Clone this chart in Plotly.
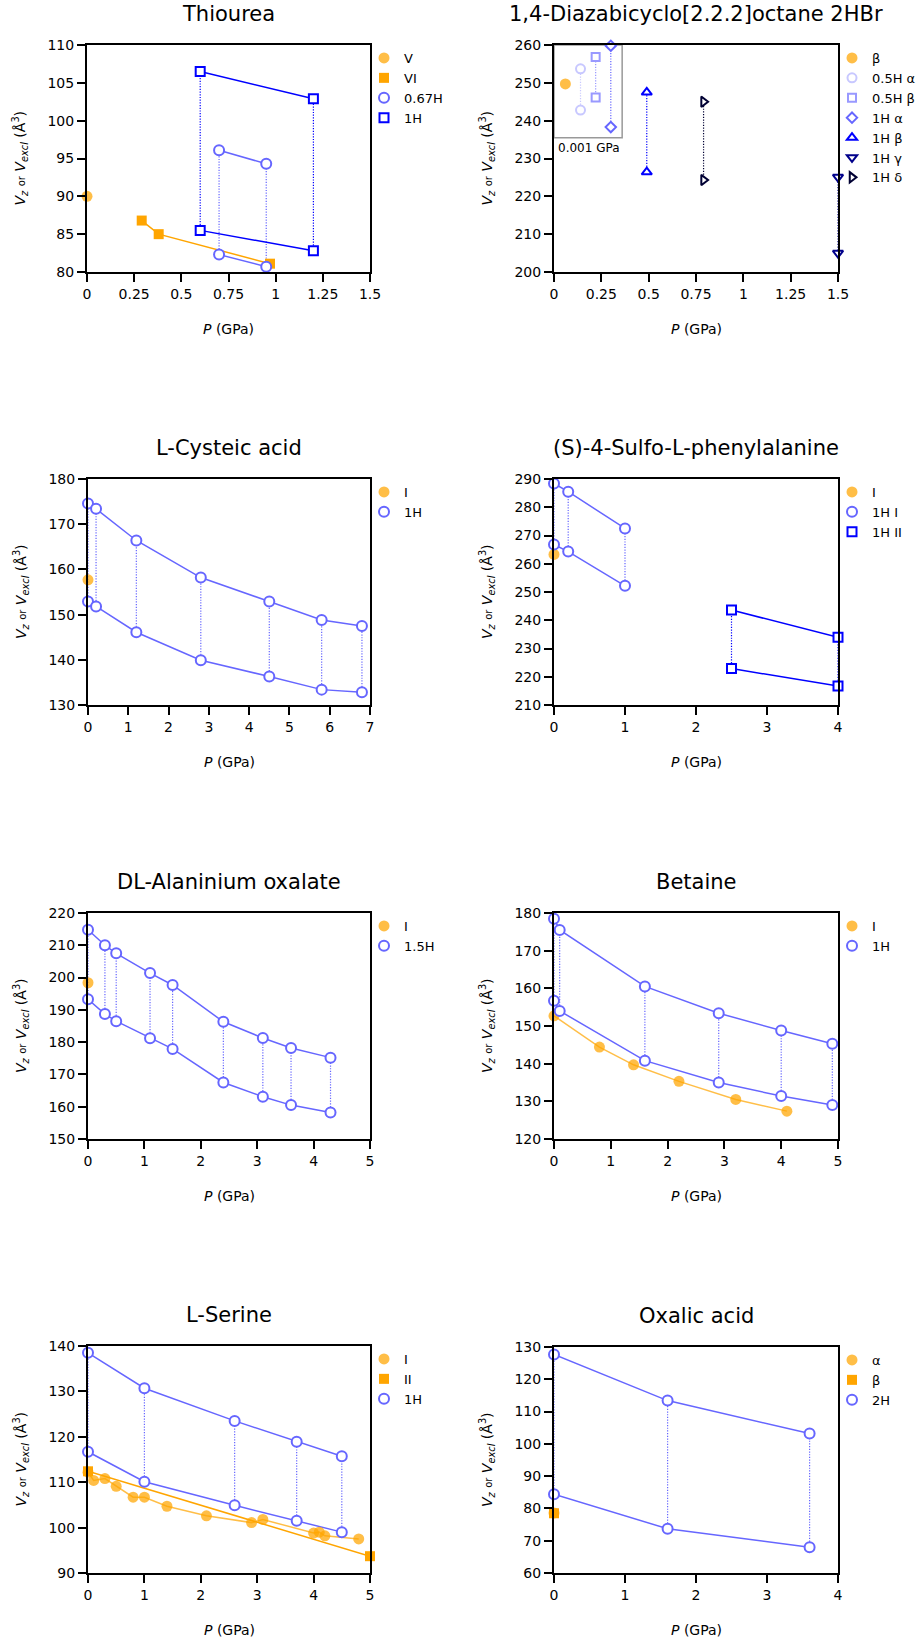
import plotly.graph_objects as go

# ---------------- data (pressure P in GPa, volumes in Å^3) ----------------
# Thiourea
thio_V_P = [0.0]
thio_V_V = [90.0]
thio_VI_P = [0.29, 0.38, 0.97]
thio_VI_V = [86.8, 85.0, 81.1]
thio_067H_P = [0.70, 0.95]
thio_067H_Vexcl = [96.1, 94.3]
thio_067H_Vz = [82.3, 80.7]
thio_1H_P = [0.60, 1.20]
thio_1H_Vexcl = [106.5, 102.9]
thio_1H_Vz = [85.5, 82.8]

# 1,4-Diazabicyclo[2.2.2]octane 2HBr (inset points drawn at offset x, all at 0.001 GPa)
dabco_beta_P = [0.06]
dabco_beta_V = [249.7]
dabco_05Ha_P = [0.14]
dabco_05Ha_Vexcl = [253.7]
dabco_05Ha_Vz = [242.8]
dabco_05Hb_P = [0.22]
dabco_05Hb_Vexcl = [256.8]
dabco_05Hb_Vz = [246.1]
dabco_1Ha_P = [0.30]
dabco_1Ha_Vexcl = [259.8]
dabco_1Ha_Vz = [238.3]
dabco_1Hb_P = [0.49]
dabco_1Hb_Vexcl = [247.5]
dabco_1Hb_Vz = [226.4]
dabco_1Hg_P = [1.50]
dabco_1Hg_Vexcl = [225.1]
dabco_1Hg_Vz = [205.0]
dabco_1Hd_P = [0.79]
dabco_1Hd_Vexcl = [245.0]
dabco_1Hd_Vz = [224.3]
dabco_inset_P = [0.0, 0.36]
dabco_inset_V = [235.5, 260.0]
dabco_inset_label = "0.001 GPa"

# L-Cysteic acid
cys_I_P = [0.0]
cys_I_V = [157.7]
cys_1H_P = [0.0, 0.2, 1.2, 2.8, 4.5, 5.8, 6.8]
cys_1H_Vexcl = [174.6, 173.4, 166.4, 158.2, 152.9, 148.8, 147.5]
cys_1H_Vz = [152.9, 151.8, 146.1, 139.9, 136.3, 133.4, 132.8]

# (S)-4-Sulfo-L-phenylalanine
sulfo_I_P = [0.0]
sulfo_I_V = [263.3]
sulfo_1HI_P = [0.0, 0.2, 1.0]
sulfo_1HI_Vexcl = [288.4, 285.5, 272.5]
sulfo_1HI_Vz = [266.8, 264.3, 252.2]
sulfo_1HII_P = [2.5, 4.0]
sulfo_1HII_Vexcl = [243.6, 234.0]
sulfo_1HII_Vz = [222.9, 216.7]

# DL-Alaninium oxalate
ala_I_P = [0.0]
ala_I_V = [198.4]
ala_15H_P = [0.0, 0.3, 0.5, 1.1, 1.5, 2.4, 3.1, 3.6, 4.3]
ala_15H_Vexcl = [214.8, 210.0, 207.5, 201.4, 197.7, 186.3, 181.3, 178.2, 175.2]
ala_15H_Vz = [193.3, 188.7, 186.5, 181.2, 177.9, 167.5, 163.1, 160.5, 158.2]

# Betaine
bet_I_P = [0.0, 0.8, 1.4, 2.2, 3.2, 4.1]
bet_I_V = [152.7, 144.4, 139.7, 135.3, 130.5, 127.4]
bet_1H_P = [0.0, 0.1, 1.6, 2.9, 4.0, 4.9]
bet_1H_Vexcl = [178.5, 175.5, 160.5, 153.4, 148.8, 145.3]
bet_1H_Vz = [156.7, 154.0, 140.8, 135.0, 131.4, 129.0]

# L-Serine
ser_I_P = [0.0, 0.1, 0.3, 0.5, 0.8, 1.0, 1.4, 2.1, 2.9, 3.1, 4.0, 4.1, 4.2, 4.8]
ser_I_V = [112.2, 110.4, 110.8, 109.1, 106.7, 106.7, 104.7, 102.6, 101.1, 101.8, 98.8, 99.0, 98.2, 97.5]
ser_II_P = [0.0, 5.0]
ser_II_V = [112.4, 93.7]
ser_1H_P = [0.0, 1.0, 2.6, 3.7, 4.5]
ser_1H_Vexcl = [138.5, 130.7, 123.5, 118.9, 115.7]
ser_1H_Vz = [116.7, 110.1, 104.9, 101.5, 99.0]

# Oxalic acid
oxa_a_P = [0.0]
oxa_a_V = [78.6]
oxa_b_P = [0.0]
oxa_b_V = [78.5]
oxa_2H_P = [0.0, 1.6, 3.6]
oxa_2H_Vexcl = [127.7, 113.4, 103.2]
oxa_2H_Vz = [84.4, 73.7, 68.0]

panel_titles = ["Thiourea", "1,4-Diazabicyclo[2.2.2]octane 2HBr", "L-Cysteic acid",
                "(S)-4-Sulfo-L-phenylalanine", "DL-Alaninium oxalate", "Betaine",
                "L-Serine", "Oxalic acid"]
x_ranges = [[0, 1.5], [0, 1.5], [0, 7], [0, 4], [0, 5], [0, 5], [0, 5], [0, 4]]
x_dticks = [0.25, 0.25, 1, 1, 1, 1, 1, 1]
y_ranges = [[80, 110], [200, 260], [130, 180], [210, 290], [150, 220], [120, 180], [90, 140], [60, 130]]
y_dticks = [5, 10, 10, 10, 10, 10, 10, 10]
x_title = "<i>P</i> (GPa)"
y_title = "<i>V<sub>z</sub></i> <span style='font-size:10px'>or</span> <i>V<sub>excl</sub></i> (Å<sup>3</sup>)"

# ---------------- layout geometry (pixels) ----------------
W, H = 923, 1643
FONT = "DejaVu Sans"
boxes = [(87, 45, 370, 272), (554, 45, 838, 272),
         (88, 479, 370, 705), (554, 479, 838, 705),
         (88, 913, 370, 1139), (554, 913, 838, 1139),
         (88, 1346, 370, 1573), (554, 1347, 838, 1573)]

LIGHT_ORANGE = "rgba(255,165,0,0.72)"
ORANGE = "#FFA500"
MID_BLUE = "#6666FF"
BLUE = "#0000FF"
PALE = "#C8C8FF"
PALE2 = "#9999FF"
NAVY = "#00008B"
DARK = "#000033"

fig = go.Figure()


def names(k):
    if k == 1:
        return "x", "y", "legend"
    return f"x{k}", f"y{k}", f"legend{k}"


def add_line(k, P, V, color, width=1.5):
    xa, ya, lg = names(k)
    fig.add_trace(go.Scatter(x=P, y=V, mode="lines", line=dict(color=color, width=width),
                             xaxis=xa, yaxis=ya, showlegend=False, hoverinfo="skip",
                             cliponaxis=False))


def add_conn(k, P, lo, hi, color):
    xa, ya, lg = names(k)
    xs, ys = [], []
    for p, a, b in zip(P, lo, hi):
        xs += [p, p, None]
        ys += [a, b, None]
    fig.add_trace(go.Scatter(x=xs, y=ys, mode="lines",
                             line=dict(color=color, width=1.2, dash="1.2px,1.5px"),
                             xaxis=xa, yaxis=ya, showlegend=False, hoverinfo="skip",
                             cliponaxis=False))


def add_markers(k, name, P, V, symbol, color, size=11, filled=True):
    xa, ya, lg = names(k)
    if filled:
        marker = dict(symbol=symbol, size=size, color=color, line=dict(width=0))
    else:
        marker = dict(symbol=symbol, size=size, color="white", line=dict(color=color, width=2))
    fig.add_trace(go.Scatter(x=P, y=V, mode="markers", marker=marker, name=name,
                             legend=lg, showlegend=True, xaxis=xa, yaxis=ya,
                             cliponaxis=False))


# ---- 1 Thiourea
add_line(1, thio_VI_P, thio_VI_V, ORANGE)
add_line(1, thio_067H_P, thio_067H_Vexcl, MID_BLUE)
add_line(1, thio_067H_P, thio_067H_Vz, MID_BLUE)
add_conn(1, thio_067H_P, thio_067H_Vz, thio_067H_Vexcl, MID_BLUE)
add_line(1, thio_1H_P, thio_1H_Vexcl, BLUE)
add_line(1, thio_1H_P, thio_1H_Vz, BLUE)
add_conn(1, thio_1H_P, thio_1H_Vz, thio_1H_Vexcl, BLUE)
add_markers(1, "V", thio_V_P, thio_V_V, "circle", LIGHT_ORANGE)
add_markers(1, "VI", thio_VI_P, thio_VI_V, "square", ORANGE, 10)
add_markers(1, "0.67H", thio_067H_P + thio_067H_P, thio_067H_Vexcl + thio_067H_Vz, "circle", MID_BLUE, 10, False)
add_markers(1, "1H", thio_1H_P + thio_1H_P, thio_1H_Vexcl + thio_1H_Vz, "square", BLUE, 9, False)

# ---- 2 DABCO 2HBr
add_conn(2, dabco_05Ha_P, dabco_05Ha_Vz, dabco_05Ha_Vexcl, PALE)
add_conn(2, dabco_05Hb_P, dabco_05Hb_Vz, dabco_05Hb_Vexcl, PALE2)
add_conn(2, dabco_1Ha_P, dabco_1Ha_Vz, dabco_1Ha_Vexcl, MID_BLUE)
add_conn(2, dabco_1Hb_P, dabco_1Hb_Vz, dabco_1Hb_Vexcl, BLUE)
add_conn(2, dabco_1Hg_P, dabco_1Hg_Vz, dabco_1Hg_Vexcl, NAVY)
add_conn(2, dabco_1Hd_P, dabco_1Hd_Vz, dabco_1Hd_Vexcl, DARK)
add_markers(2, "β", dabco_beta_P, dabco_beta_V, "circle", LIGHT_ORANGE)
add_markers(2, "0.5H α", dabco_05Ha_P * 2, dabco_05Ha_Vexcl + dabco_05Ha_Vz, "circle", PALE, 9, False)
add_markers(2, "0.5H β", dabco_05Hb_P * 2, dabco_05Hb_Vexcl + dabco_05Hb_Vz, "square", PALE2, 8, False)
add_markers(2, "1H α", dabco_1Ha_P * 2, dabco_1Ha_Vexcl + dabco_1Ha_Vz, "diamond", MID_BLUE, 8, False)
add_markers(2, "1H β", dabco_1Hb_P * 2, dabco_1Hb_Vexcl + dabco_1Hb_Vz, "triangle-up", BLUE, 9, False)
add_markers(2, "1H γ", dabco_1Hg_P * 2, dabco_1Hg_Vexcl + dabco_1Hg_Vz, "triangle-down", NAVY, 9, False)
add_markers(2, "1H δ", dabco_1Hd_P * 2, dabco_1Hd_Vexcl + dabco_1Hd_Vz, "triangle-right", DARK, 9, False)

# ---- 3 L-Cysteic acid
add_line(3, cys_1H_P, cys_1H_Vexcl, MID_BLUE)
add_line(3, cys_1H_P, cys_1H_Vz, MID_BLUE)
add_conn(3, cys_1H_P, cys_1H_Vz, cys_1H_Vexcl, MID_BLUE)
add_markers(3, "I", cys_I_P, cys_I_V, "circle", LIGHT_ORANGE)
add_markers(3, "1H", cys_1H_P + cys_1H_P, cys_1H_Vexcl + cys_1H_Vz, "circle", MID_BLUE, 10, False)

# ---- 4 Sulfo-phenylalanine
add_line(4, sulfo_1HI_P, sulfo_1HI_Vexcl, MID_BLUE)
add_line(4, sulfo_1HI_P, sulfo_1HI_Vz, MID_BLUE)
add_conn(4, sulfo_1HI_P, sulfo_1HI_Vz, sulfo_1HI_Vexcl, MID_BLUE)
add_line(4, sulfo_1HII_P, sulfo_1HII_Vexcl, BLUE)
add_line(4, sulfo_1HII_P, sulfo_1HII_Vz, BLUE)
add_conn(4, sulfo_1HII_P, sulfo_1HII_Vz, sulfo_1HII_Vexcl, BLUE)
add_markers(4, "I", sulfo_I_P, sulfo_I_V, "circle", LIGHT_ORANGE)
add_markers(4, "1H I", sulfo_1HI_P + sulfo_1HI_P, sulfo_1HI_Vexcl + sulfo_1HI_Vz, "circle", MID_BLUE, 10, False)
add_markers(4, "1H II", sulfo_1HII_P + sulfo_1HII_P, sulfo_1HII_Vexcl + sulfo_1HII_Vz, "square", BLUE, 9, False)

# ---- 5 DL-Alaninium oxalate
add_line(5, ala_15H_P, ala_15H_Vexcl, MID_BLUE)
add_line(5, ala_15H_P, ala_15H_Vz, MID_BLUE)
add_conn(5, ala_15H_P, ala_15H_Vz, ala_15H_Vexcl, MID_BLUE)
add_markers(5, "I", ala_I_P, ala_I_V, "circle", LIGHT_ORANGE)
add_markers(5, "1.5H", ala_15H_P + ala_15H_P, ala_15H_Vexcl + ala_15H_Vz, "circle", MID_BLUE, 10, False)

# ---- 6 Betaine
add_line(6, bet_I_P, bet_I_V, LIGHT_ORANGE)
add_line(6, bet_1H_P, bet_1H_Vexcl, MID_BLUE)
add_line(6, bet_1H_P, bet_1H_Vz, MID_BLUE)
add_conn(6, bet_1H_P, bet_1H_Vz, bet_1H_Vexcl, MID_BLUE)
add_markers(6, "I", bet_I_P, bet_I_V, "circle", LIGHT_ORANGE)
add_markers(6, "1H", bet_1H_P + bet_1H_P, bet_1H_Vexcl + bet_1H_Vz, "circle", MID_BLUE, 10, False)

# ---- 7 L-Serine
add_line(7, ser_I_P, ser_I_V, LIGHT_ORANGE)
add_line(7, ser_II_P, ser_II_V, ORANGE)
add_line(7, ser_1H_P, ser_1H_Vexcl, MID_BLUE)
add_line(7, ser_1H_P, ser_1H_Vz, MID_BLUE)
add_conn(7, ser_1H_P, ser_1H_Vz, ser_1H_Vexcl, MID_BLUE)
add_markers(7, "I", ser_I_P, ser_I_V, "circle", LIGHT_ORANGE)
add_markers(7, "II", ser_II_P, ser_II_V, "square", ORANGE, 10)
add_markers(7, "1H", ser_1H_P + ser_1H_P, ser_1H_Vexcl + ser_1H_Vz, "circle", MID_BLUE, 10, False)

# ---- 8 Oxalic acid
add_line(8, oxa_2H_P, oxa_2H_Vexcl, MID_BLUE)
add_line(8, oxa_2H_P, oxa_2H_Vz, MID_BLUE)
add_conn(8, oxa_2H_P, oxa_2H_Vz, oxa_2H_Vexcl, MID_BLUE)
add_markers(8, "α", oxa_a_P, oxa_a_V, "circle", LIGHT_ORANGE)
add_markers(8, "β", oxa_b_P, oxa_b_V, "square", ORANGE, 10)
add_markers(8, "2H", oxa_2H_P + oxa_2H_P, oxa_2H_Vexcl + oxa_2H_Vz, "circle", MID_BLUE, 10, False)

# ---------------- axes, titles, legends ----------------
layout = dict(width=W, height=H, margin=dict(l=0, r=0, t=0, b=0, pad=0, autoexpand=False),
              paper_bgcolor="white", plot_bgcolor="white",
              font=dict(family=FONT, size=14, color="black"), hovermode=False)
annotations = []
for i, (l, t, r, b) in enumerate(boxes):
    k = i + 1
    sx = "" if k == 1 else str(k)
    common = dict(showline=True, mirror=True, linecolor="black", linewidth=2,
                  ticks="outside", ticklen=8, tickwidth=2, tickcolor="black",
                  showgrid=False, zeroline=False, tick0=0, automargin=False,
                  tickfont=dict(family=FONT, size=14, color="black"), fixedrange=True)
    layout["xaxis" + sx] = dict(domain=[l / W, r / W], range=x_ranges[i], dtick=x_dticks[i],
                                anchor="y" + sx, **common)
    layout["yaxis" + sx] = dict(domain=[1 - b / H, 1 - t / H], range=y_ranges[i], dtick=y_dticks[i],
                                anchor="x" + sx, **common)
    layout["legend" + sx] = dict(x=(r - 6) / W, y=1 - (t - 2) / H, xanchor="left", yanchor="top",
                                 bgcolor="rgba(0,0,0,0)", borderwidth=0,
                                 font=dict(family=FONT, size=13, color="black"),
                                 itemclick=False, itemdoubleclick=False)
    cx = (l + r) / 2
    annotations.append(dict(text=panel_titles[i], x=cx / W, y=1 - (t - 31) / H, xref="paper", yref="paper",
                            showarrow=False, xanchor="center", yanchor="middle",
                            font=dict(family=FONT, size=21, color="black")))
    annotations.append(dict(text=x_title, x=cx / W, y=1 - (b + 57) / H, xref="paper", yref="paper",
                            showarrow=False, xanchor="center", yanchor="middle",
                            font=dict(family=FONT, size=14, color="black")))
    annotations.append(dict(text=y_title, x=(l - 67) / W, y=1 - ((t + b) / 2) / H, xref="paper", yref="paper",
                            showarrow=False, xanchor="center", yanchor="middle", textangle=-90,
                            font=dict(family=FONT, size=14, color="black")))

annotations.append(dict(text=dabco_inset_label, x=0.01, y=dabco_inset_V[0] - 2.6, xref="x2", yref="y2",
                        showarrow=False, xanchor="left", yanchor="middle",
                        font=dict(family=FONT, size=12, color="black")))
layout["annotations"] = annotations
layout["shapes"] = [dict(type="rect", xref="x2", yref="y2",
                         x0=dabco_inset_P[0], x1=dabco_inset_P[1],
                         y0=dabco_inset_V[0], y1=dabco_inset_V[1],
                         line=dict(color="#999999", width=1.5), layer="below")]
fig.update_layout(**layout)

fig.write_html("out.html", config={"displayModeBar": False, "staticPlot": True},
               post_script="document.body.style.margin='0';document.body.style.overflow='hidden';")
